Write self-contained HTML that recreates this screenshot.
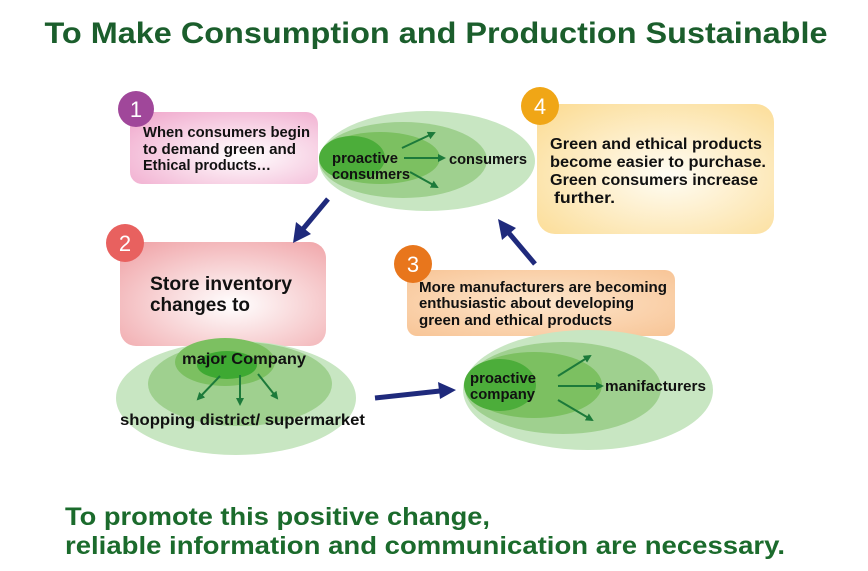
<!DOCTYPE html>
<html><head><meta charset="utf-8"><style>
html,body{margin:0;padding:0;background:#fff;width:868px;height:571px;overflow:hidden}
text{font-family:"Liberation Sans","DejaVu Sans",sans-serif;font-weight:bold}
</style></head><body>
<svg width="868" height="571" viewBox="0 0 868 571" xmlns="http://www.w3.org/2000/svg">
<defs>
<radialGradient id="pk" cx="0.6" cy="0.6" r="0.8"><stop offset="0" stop-color="#fff"/><stop offset="1" stop-color="#f0a8cc"/></radialGradient>
<radialGradient id="rd" cx="0.55" cy="0.6" r="0.8"><stop offset="0" stop-color="#fff"/><stop offset="1" stop-color="#ef9fa3"/></radialGradient>
<radialGradient id="or" cx="0.5" cy="0.5" r="0.8"><stop offset="0" stop-color="#fde6cc"/><stop offset="1" stop-color="#f7c08f"/></radialGradient>
<radialGradient id="yl" cx="0.55" cy="0.55" r="0.8"><stop offset="0" stop-color="#fffdf5"/><stop offset="1" stop-color="#fbd98c"/></radialGradient>
<marker id="ga" markerWidth="8" markerHeight="8" refX="6" refY="4" orient="auto" markerUnits="userSpaceOnUse"><path d="M0,0 L8,4 L0,8 z" fill="#1c7a3a"/></marker>
</defs>
<text x="436" y="43" font-size="30" fill="#1b5e2c" text-anchor="middle" textLength="783" lengthAdjust="spacingAndGlyphs">To Make Consumption and Production Sustainable</text>

<ellipse cx="427" cy="161" rx="108" ry="50" fill="#c8e6c2"/>
<ellipse cx="403" cy="160" rx="84" ry="38" fill="#9fd08f"/>
<ellipse cx="380" cy="158" rx="60" ry="26" fill="#7cc061"/>
<ellipse cx="352" cy="158" rx="33" ry="22" fill="#4cad3a"/>
<line x1="402" y1="148" x2="434" y2="133" stroke="#1c7a3a" stroke-width="2" marker-end="url(#ga)"/>
<line x1="404" y1="158" x2="444" y2="158" stroke="#1c7a3a" stroke-width="2" marker-end="url(#ga)"/>
<line x1="410" y1="172" x2="437" y2="187" stroke="#1c7a3a" stroke-width="2" marker-end="url(#ga)"/>
<text x="332" y="163" font-size="15" fill="#111" textLength="66" lengthAdjust="spacingAndGlyphs">proactive</text>
<text x="332" y="179" font-size="15" fill="#111" textLength="78" lengthAdjust="spacingAndGlyphs">consumers</text>
<text x="449" y="164" font-size="15" fill="#111" textLength="78" lengthAdjust="spacingAndGlyphs">consumers</text>

<rect x="130" y="112" width="188" height="72" rx="12" fill="url(#pk)"/>
<circle cx="136" cy="109" r="18" fill="#a0479a"/>
<text x="136" y="117" font-size="22" fill="#fff" text-anchor="middle" style="font-weight:normal">1</text>
<text x="143" y="137" font-size="15" fill="#111" textLength="167" lengthAdjust="spacingAndGlyphs">When consumers begin</text>
<text x="143" y="154" font-size="15" fill="#111" textLength="153" lengthAdjust="spacingAndGlyphs">to demand green and</text>
<text x="143" y="170" font-size="15" fill="#111" textLength="128" lengthAdjust="spacingAndGlyphs">Ethical products…</text>

<rect x="537" y="104" width="237" height="130" rx="18" fill="url(#yl)"/>
<circle cx="540" cy="106" r="19" fill="#f0a616"/>
<text x="540" y="114" font-size="22" fill="#fff" text-anchor="middle" style="font-weight:normal">4</text>
<text x="550" y="149" font-size="16" fill="#111" textLength="212" lengthAdjust="spacingAndGlyphs">Green and ethical products</text>
<text x="550" y="167" font-size="16" fill="#111" textLength="216" lengthAdjust="spacingAndGlyphs">become easier to purchase.</text>
<text x="550" y="185" font-size="16" fill="#111" textLength="208" lengthAdjust="spacingAndGlyphs">Green consumers increase</text>
<text x="554" y="203" font-size="16" fill="#111" textLength="61" lengthAdjust="spacingAndGlyphs">further.</text>

<rect x="120" y="242" width="206" height="104" rx="16" fill="url(#rd)"/>
<circle cx="125" cy="243" r="19" fill="#e8615f"/>
<text x="125" y="251" font-size="22" fill="#fff" text-anchor="middle" style="font-weight:normal">2</text>
<text x="150" y="290" font-size="19" fill="#111" textLength="142" lengthAdjust="spacingAndGlyphs">Store inventory</text>
<text x="150" y="311" font-size="19" fill="#111" textLength="100" lengthAdjust="spacingAndGlyphs">changes to</text>

<rect x="407" y="270" width="268" height="66" rx="10" fill="url(#or)"/>
<circle cx="413" cy="264" r="19" fill="#e8761c"/>
<text x="413" y="272" font-size="22" fill="#fff" text-anchor="middle" style="font-weight:normal">3</text>
<text x="419" y="292" font-size="15" fill="#111" textLength="248" lengthAdjust="spacingAndGlyphs">More manufacturers are becoming</text>
<text x="419" y="308" font-size="15" fill="#111" textLength="215" lengthAdjust="spacingAndGlyphs">enthusiastic about developing</text>
<text x="419" y="325" font-size="15" fill="#111" textLength="193" lengthAdjust="spacingAndGlyphs">green and ethical products</text>

<ellipse cx="236" cy="398" rx="120" ry="57" fill="#c8e6c2"/>
<ellipse cx="240" cy="384" rx="92" ry="42" fill="#9fd08f"/>
<ellipse cx="225" cy="362" rx="50" ry="24" fill="#7cc061"/>
<ellipse cx="227" cy="365" rx="30" ry="14" fill="#3ea932"/>
<line x1="220" y1="376" x2="198" y2="399" stroke="#1c7a3a" stroke-width="2" marker-end="url(#ga)"/>
<line x1="240" y1="375" x2="240" y2="404" stroke="#1c7a3a" stroke-width="2" marker-end="url(#ga)"/>
<line x1="258" y1="374" x2="277" y2="398" stroke="#1c7a3a" stroke-width="2" marker-end="url(#ga)"/>
<text x="182" y="364" font-size="15.5" fill="#111" textLength="124" lengthAdjust="spacingAndGlyphs">major Company</text>
<text x="120" y="425" font-size="15.5" fill="#111" textLength="245" lengthAdjust="spacingAndGlyphs">shopping district/ supermarket</text>

<ellipse cx="588" cy="390" rx="125" ry="60" fill="#c8e6c2"/>
<ellipse cx="563" cy="388" rx="98" ry="46" fill="#9fd08f"/>
<ellipse cx="534" cy="385" rx="68" ry="33" fill="#7cc061"/>
<ellipse cx="500" cy="385" rx="36" ry="26" fill="#4cad3a"/>
<line x1="558" y1="376" x2="590" y2="356" stroke="#1c7a3a" stroke-width="2" marker-end="url(#ga)"/>
<line x1="558" y1="386" x2="602" y2="386" stroke="#1c7a3a" stroke-width="2" marker-end="url(#ga)"/>
<line x1="558" y1="400" x2="592" y2="420" stroke="#1c7a3a" stroke-width="2" marker-end="url(#ga)"/>
<text x="470" y="383" font-size="15" fill="#111" textLength="66" lengthAdjust="spacingAndGlyphs">proactive</text>
<text x="470" y="399" font-size="15" fill="#111" textLength="65" lengthAdjust="spacingAndGlyphs">company</text>
<text x="605" y="391" font-size="15" fill="#111" textLength="101" lengthAdjust="spacingAndGlyphs">manifacturers</text>

<g fill="#1f2a7c">
<line x1="328" y1="199" x2="303" y2="229" stroke="#1f2a7c" stroke-width="5"/>
<polygon points="293,243 296,222 311,234"/>
<line x1="535" y1="264" x2="508" y2="232" stroke="#1f2a7c" stroke-width="5"/>
<polygon points="498,219 516,228 502,240"/>
<line x1="375" y1="398" x2="440" y2="391" stroke="#1f2a7c" stroke-width="5"/>
<polygon points="456,390 438,382 440,399"/>
</g>

<text x="65" y="525" font-size="25" fill="#1b6b2c" textLength="425" lengthAdjust="spacingAndGlyphs">To promote this positive change,</text>
<text x="65" y="554" font-size="25" fill="#1b6b2c" textLength="720" lengthAdjust="spacingAndGlyphs">reliable information and communication are necessary.</text>
</svg>
</body></html>
